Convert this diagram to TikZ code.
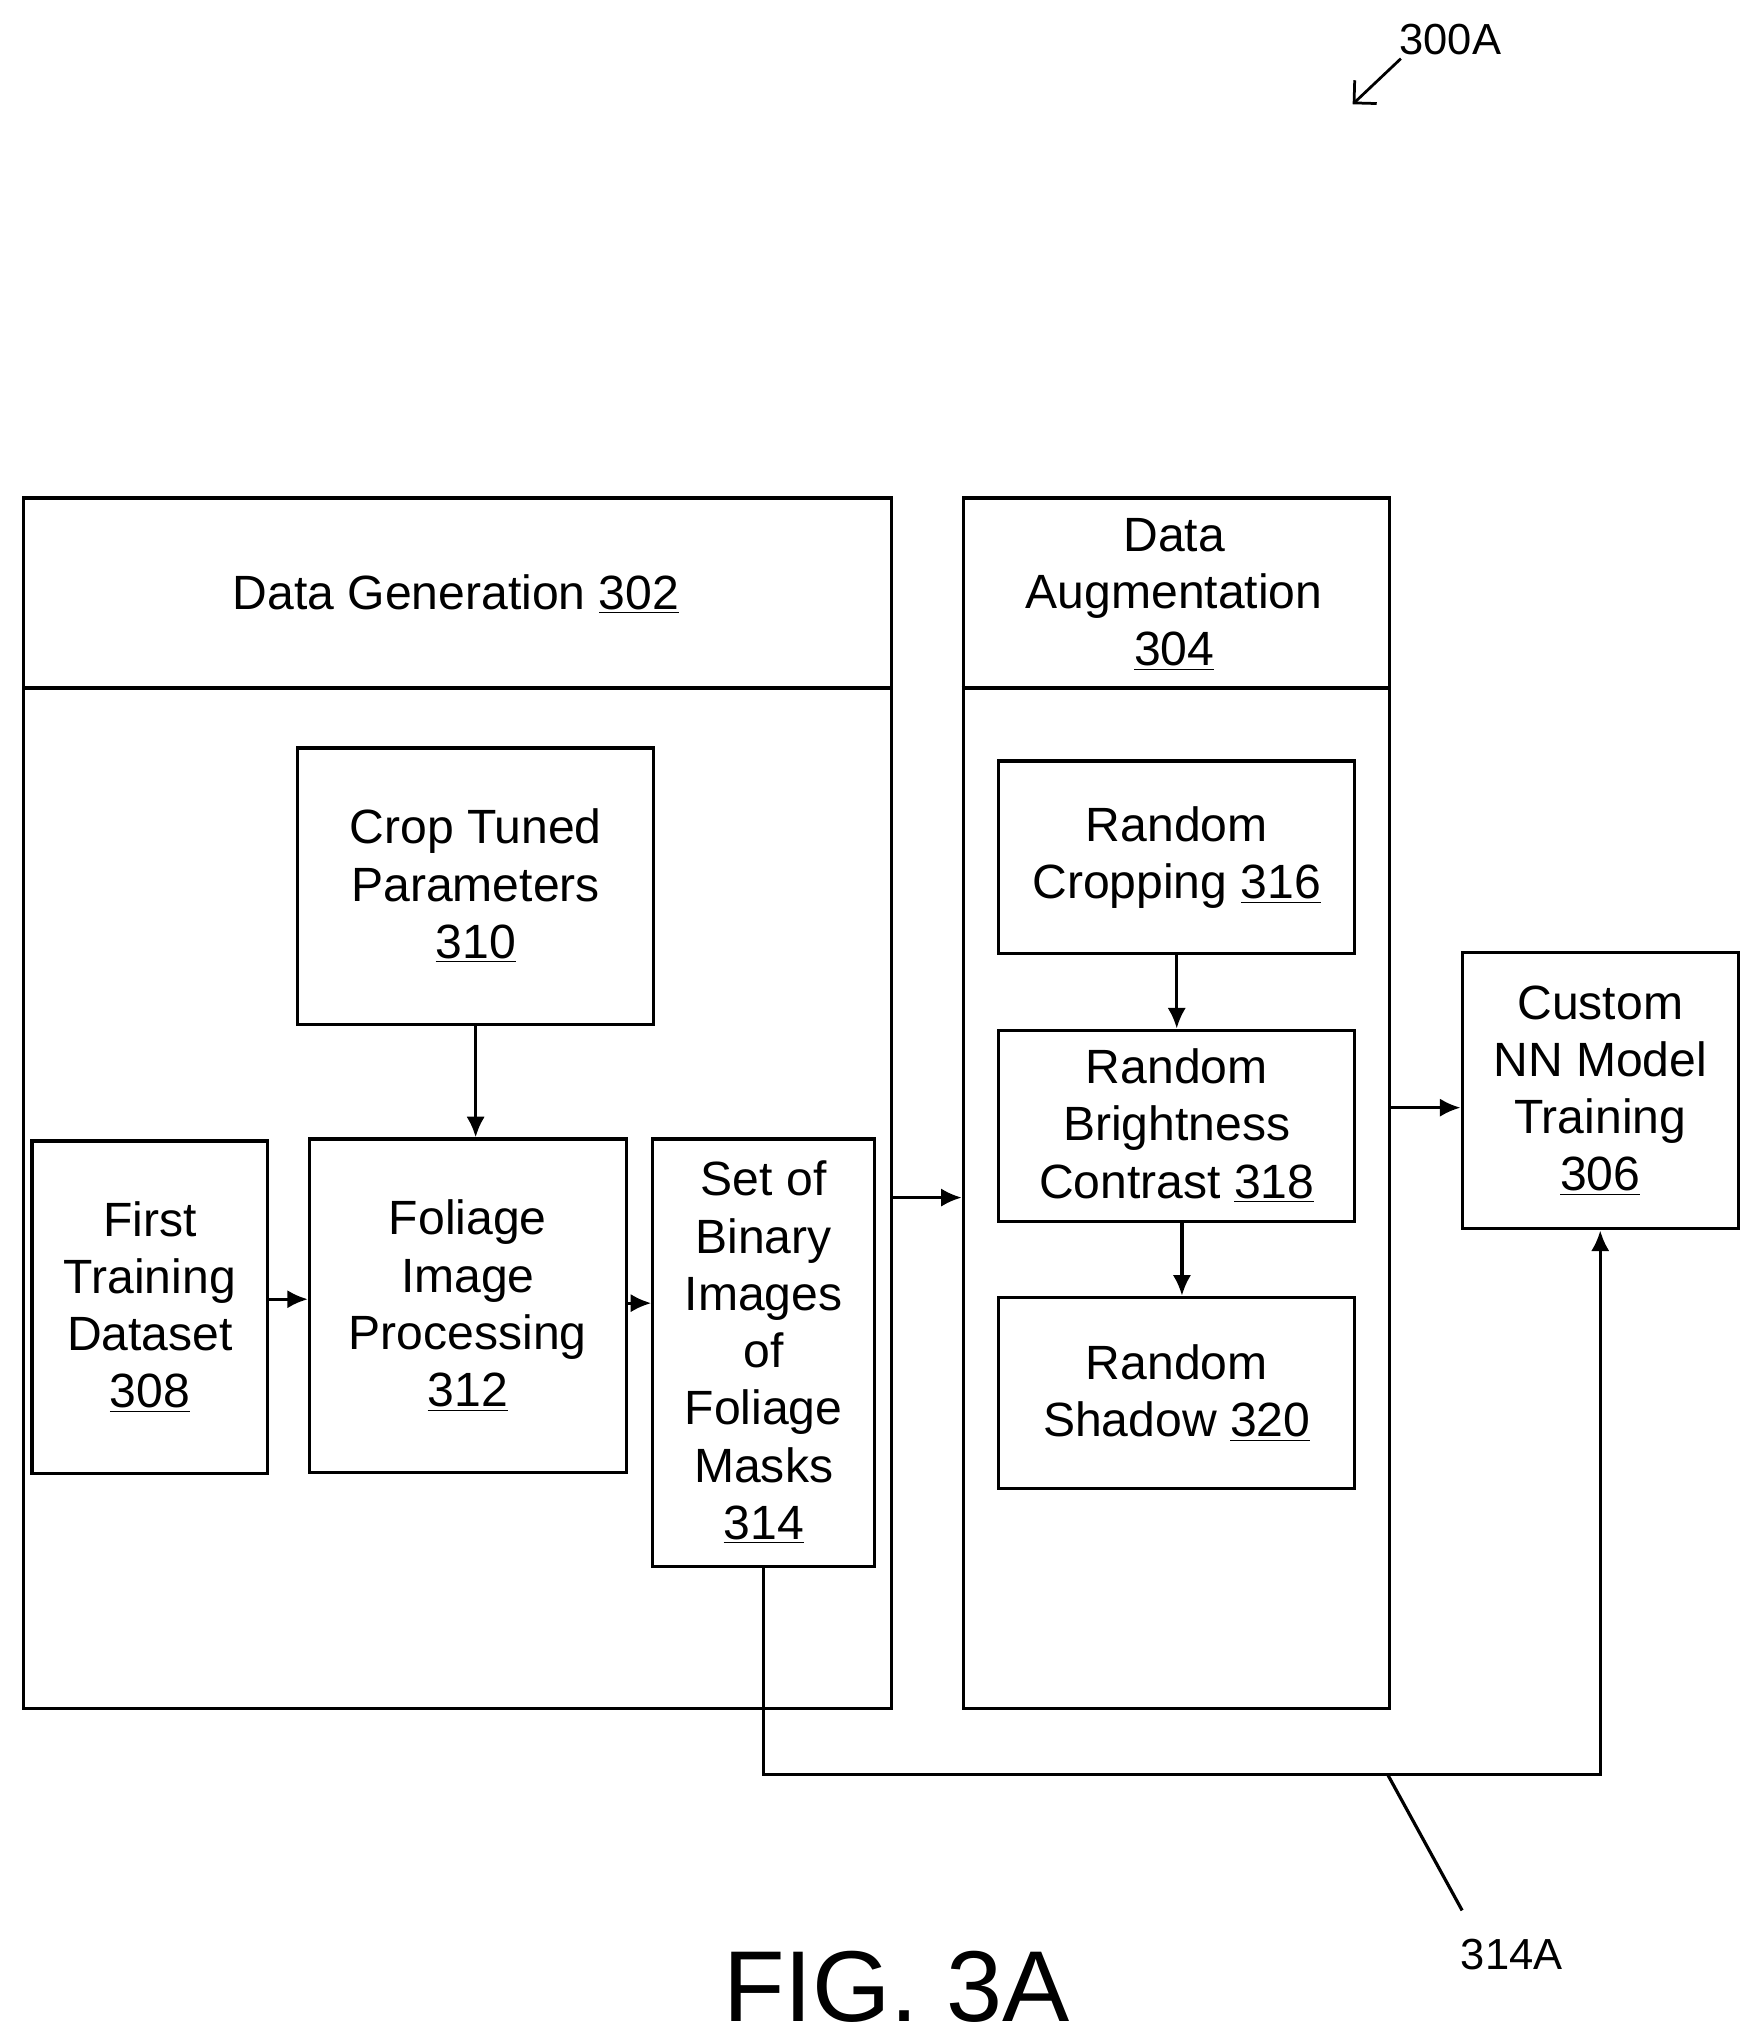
\documentclass[tikz,border=0pt]{standalone}
\usepackage{fontspec}
\setmainfont{Liberation Sans}
\usetikzlibrary{arrows.meta}
\tikzset{
  blk/.style={rectangle, draw=black, line width=1.4pt, align=center, font=\fontsize{21}{25}\selectfont, inner sep=0pt},
  arrow/.style={line width=1.4pt, -{Latex[length=9pt,width=8pt]}},
  plain/.style={line width=1.4pt}
}
\begin{document}
\begin{tikzpicture}[x=0.02cm, y=-0.02cm]
\useasboundingbox (0,0) rectangle (1350,1567);
% outer panels
\node (gen) [blk, minimum width=666*0.02cm, minimum height=929*0.02cm, anchor=north west] at (17,381) {};
\draw[plain] (17,528) -- (683,528);
\node (genhead) [blk, draw=none] at (350,456) {Data Generation \underline{302}};
\node (aug) [blk, minimum width=327*0.02cm, minimum height=929*0.02cm, anchor=north west] at (738,381) {};
\draw[plain] (738,528) -- (1065,528);
\node (aughead) [blk, draw=none] at (901,456) {Data\\Augmentation\\\underline{304}};
% data generation blocks
\node (crop) [blk, minimum width=273*0.02cm, minimum height=212*0.02cm] at (365,680) {Crop Tuned\\Parameters\\\underline{310}};
\node (first) [blk, minimum width=181*0.02cm, minimum height=255*0.02cm] at (115,1003) {First\\Training\\Dataset\\\underline{308}};
\node (foliage) [blk, minimum width=243*0.02cm, minimum height=256*0.02cm] at (359,1002) {Foliage\\Image\\Processing\\\underline{312}};
\node (masks) [blk, minimum width=170*0.02cm, minimum height=328*0.02cm] at (586,1038) {Set of\\Binary\\Images\\of\\Foliage\\Masks\\\underline{314}};
% data augmentation blocks
\node (rcrop) [blk, minimum width=273*0.02cm, minimum height=148*0.02cm] at (903,658) {Random\\Cropping \underline{316}};
\node (rbright) [blk, minimum width=273*0.02cm, minimum height=147*0.02cm] at (903,864) {Random\\Brightness\\Contrast \underline{318}};
\node (rshadow) [blk, minimum width=273*0.02cm, minimum height=147*0.02cm] at (903,1069) {Random\\Shadow \underline{320}};
\node (custom) [blk, minimum width=212*0.02cm, minimum height=212*0.02cm] at (1228,837) {Custom\\NN Model\\Training\\\underline{306}};
% connectors
\draw [arrow] (crop) -- (crop |- foliage.north);
\draw [arrow] (first.east |- 0,997) -- (foliage.west |- 0,997);
\draw [arrow] (foliage.east |- 0,1000) -- (masks.west |- 0,1000);
\draw [arrow] (gen.east |- 0,919) -- (aug.west |- 0,919);
\draw [arrow] (aug.east |- 0,850) -- (custom.west |- 0,850);
\draw [arrow] (rcrop) -- (rbright);
\draw [arrow] (rbright.south -| 907,0) -- (rshadow.north -| 907,0);
\coordinate (bend) at (586,1362);
\draw [arrow] (masks.south) -- (bend) -- (custom.south |- bend) -- (custom.south);
% labels
\node (lbl314a) [font=\fontsize{19}{22}\selectfont] at (1160,1500) {314A};
\draw [plain] (1065,1362) -- (1122,1466);
\node (lbl300a) [font=\fontsize{19}{22}\selectfont] at (1113,30) {300A};
\draw [line width=1.2pt, -{Straight Barb[length=7pt]}] (1075,45) -- (1038,80);
\node (fig) [font=\fontsize{44}{48}\selectfont] at (688,1525) {FIG. 3A};
\end{tikzpicture}
\end{document}
